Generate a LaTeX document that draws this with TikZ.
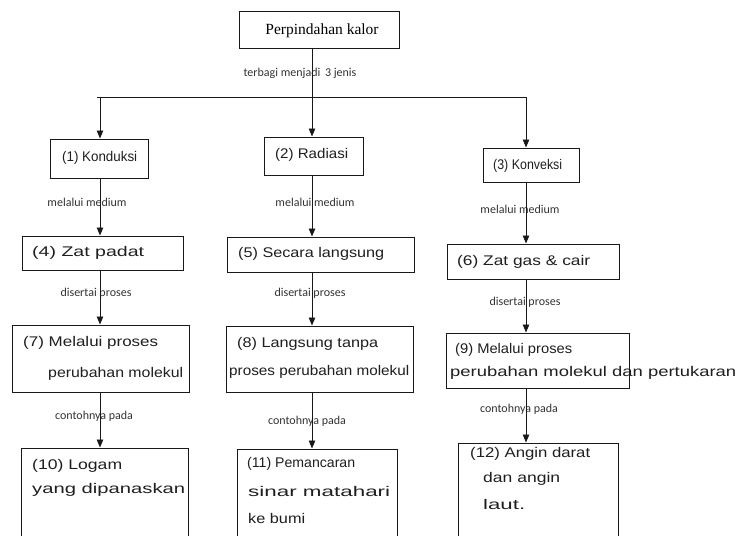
\documentclass[tikz,border=0pt]{standalone}
\usepackage{fontspec}
\setmainfont{Liberation Serif}
\newfontfamily\labelfont{Carlito}
\newfontfamily\handfont{Liberation Sans}
\usetikzlibrary{arrows.meta}
% squeeze or stretch a text horizontally to a given width
\newcommand{\wfit}[2]{\resizebox{#1pt}{\height}{#2}}
\tikzset{
  box/.style={draw=black!90, line width=1pt, inner sep=0pt, fill=none},
  link/.style={draw=black!90, line width=0.95pt},
  arr/.style={link, -{Triangle[length=8pt,width=6.5pt]}},
  lbl/.style={font=\labelfont\fontsize{12}{14}\selectfont, text=black!80, inner sep=0pt},
  hw/.style={font=\handfont\fontsize{14}{16}\selectfont, text=black!88, inner sep=0pt, anchor=west},
}
\begin{document}
\begin{tikzpicture}[x=1pt,y=-1pt]
\useasboundingbox (0,0) rectangle (738,535);
\clip (0,0) rectangle (738,535);
\fill[white] (0,0) rectangle (738,535);

% column axes
\coordinate (x1) at (100,0);
\coordinate (x2) at (312,0);
\coordinate (x3) at (526,0);

% root
\node[box, minimum width=160, minimum height=37] (top) at (319,30.5) {};
\node[inner sep=0pt, font=\fontsize{15.5}{17}\selectfont] (toptxt) at (322,30.5) {Perpindahan kalor};

% level 1
\node[box, minimum width=98, minimum height=39] (k1) at (99,158.5) {};
\node[box, minimum width=99, minimum height=38] (k2) at (313.5,156) {};
\node[box, minimum width=96, minimum height=34] (k3) at (531,165) {};
% level 2
\node[box, minimum width=161, minimum height=34] (k4) at (102.5,253) {};
\node[box, minimum width=187, minimum height=35] (k5) at (320.5,254.5) {};
\node[box, minimum width=172, minimum height=35] (k6) at (533,261.5) {};
% level 3
\node[box, minimum width=177, minimum height=67] (k7) at (100.5,358.5) {};
\node[box, minimum width=187, minimum height=66] (k8) at (319.5,359) {};
\node[box, minimum width=183, minimum height=55] (k9) at (537.5,360.5) {};
% level 4 (running past the lower edge)
\node[box, minimum width=167, minimum height=100] (k10) at (104.5,498) {};
\node[box, minimum width=160, minimum height=100] (k11) at (317,499) {};
\node[box, minimum width=160, minimum height=104] (k12) at (538,495) {};

% box texts
\node[hw] (t1) at (62,158) {\wfit{75}{(1) Konduksi}};
\node[hw] (t2) at (275,155) {\wfit{73}{(2) Radiasi}};
\node[hw] (t3) at (493,166) {\wfit{69}{(3) Konveksi}};
\node[hw] (t4) at (32,253) {\wfit{112}{(4) Zat padat}};
\node[hw] (t5) at (238,254) {\wfit{146}{(5) Secara langsung}};
\node[hw] (t6) at (457,262) {\wfit{133}{(6) Zat gas \& cair}};
\node[hw] (t7a) at (23,343) {\wfit{135}{(7) Melalui proses}};
\node[hw] (t7b) at (48,374) {\wfit{135}{perubahan molekul}};
\node[hw] (t8a) at (237,344) {\wfit{141}{(8) Langsung tanpa}};
\node[hw] (t8b) at (229,372) {\wfit{180}{proses perubahan molekul}};
\node[hw] (t9a) at (455,350) {\wfit{117}{(9) Melalui proses}};
\node[hw] (t9b) at (450,373) {\wfit{286}{perubahan molekul dan pertukaran}};
\node[hw] (t10a) at (32,466) {\wfit{90}{(10) Logam}};
\node[hw] (t10b) at (32,490) {\wfit{153}{yang dipanaskan}};
\node[hw] (t11a) at (247,464) {\wfit{108}{(11) Pemancaran}};
\node[hw] (t11b) at (248,491) {\wfit{142}{sinar matahari}};
\node[hw] (t11c) at (248,518) {\wfit{57}{ke bumi}};
\node[hw] (t12a) at (470,454) {\wfit{120}{(12) Angin darat}};
\node[hw] (t12b) at (483,479) {\wfit{77}{dan angin}};
\node[hw] (t12c) at (483,504) {\wfit{42}{laut.}};

% connector labels (the lines run across them)
\node[lbl] (l0) at (300,73) {terbagi menjadi\, 3 jenis};
\node[lbl] (l1) at (87,202) {melalui medium};
\node[lbl] (l2) at (315,202) {melalui medium};
\node[lbl] (l3) at (520,209) {melalui medium};
\node[lbl] (l4) at (96,293) {disertai proses};
\node[lbl] (l5) at (310,293) {disertai proses};
\node[lbl] (l6) at (525,302) {disertai proses};
\node[lbl] (l7) at (94,416) {contohnya pada};
\node[lbl] (l8) at (307,421) {contohnya pada};
\node[lbl] (l9) at (519,409) {contohnya pada};

% branching
\coordinate (j1) at (97,97);
\coordinate (j3) at (527,97);
\draw[link] (j1) -- (j3);
\draw[arr] (j1 -| x1) -- (k1.north -| x1);
\draw[arr] (top.south -| x2) -- (k2.north -| x2);
\draw[arr] (j3 -| x3) -- (k3.north -| x3);

% column chains
\foreach \a/\b/\c in {k1/k4/x1, k4/k7/x1, k7/k10/x1,
                      k2/k5/x2, k5/k8/x2, k8/k11/x2,
                      k3/k6/x3, k6/k9/x3, k9/k12/x3}
  \draw[arr] (\a.south -| \c) -- (\b.north -| \c);
\end{tikzpicture}
\end{document}
